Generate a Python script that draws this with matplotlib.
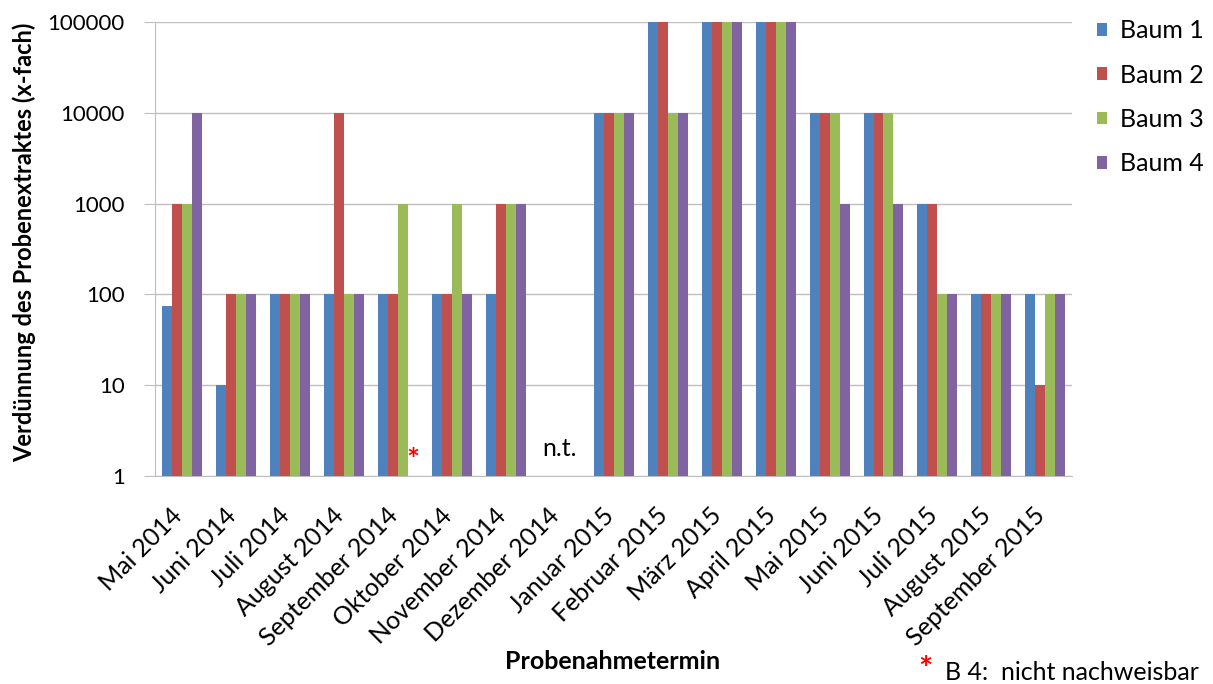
import numpy as np
import matplotlib
matplotlib.use("Agg")
import matplotlib.pyplot as plt
from matplotlib.ticker import FixedLocator, NullLocator
from matplotlib.transforms import ScaledTranslation

plt.rcParams["font.family"] = ["Lato", "DejaVu Sans"]

months = ["Mai 2014", "Juni 2014", "Juli 2014", "August 2014", "September 2014",
          "Oktober 2014", "November 2014", "Dezember 2014", "Januar 2015",
          "Februar 2015", "März 2015", "April 2015", "Mai 2015", "Juni 2015",
          "Juli 2015", "August 2015", "September 2015"]

nan = np.nan
baum1 = [75, 10, 100, 100, 100, 100, 100, nan, 10000, 100000, 100000, 100000, 10000, 10000, 1000, 100, 100]
baum2 = [1000, 100, 100, 10000, 100, 100, 1000, nan, 10000, 100000, 100000, 100000, 10000, 10000, 1000, 100, 10]
baum3 = [1000, 100, 100, 100, 1000, 1000, 1000, nan, 10000, 10000, 100000, 100000, 10000, 10000, 100, 100, 100]
baum4 = [10000, 100, 100, 100, nan, 100, 1000, nan, 10000, 10000, 100000, 100000, 1000, 1000, 100, 100, 100]

series = [("Baum 1", baum1, "#4F81BD"), ("Baum 2", baum2, "#C0504D"),
          ("Baum 3", baum3, "#9BBB59"), ("Baum 4", baum4, "#8064A2")]

GRID = "#BFBFBF"
FS = 18

fig = plt.figure(figsize=(12.13, 6.84), dpi=100)
ax = fig.add_axes([0.128, 0.304, 0.756, 0.664])

x = np.arange(len(months))
w = 0.185
for i, (name, vals, color) in enumerate(series):
    v = np.array(vals, dtype=float)
    # bars start at 1 on the log axis, so the height is value - 1
    ax.bar(x + (i - 1.5) * w, np.where(np.isnan(v), 0, v - 1), w, bottom=1,
           color=color, edgecolor="none", label=name, zorder=3)

ax.set_yscale("log")
ax.set_ylim(1, 100000)
ax.set_xlim(-0.5, len(months) - 0.5)
ax.yaxis.set_major_locator(FixedLocator([1, 10, 100, 1000, 10000, 100000]))
ax.yaxis.set_minor_locator(NullLocator())
ax.set_yticklabels(["1", "10", "100", "1000", "10000", "100000"], fontsize=16)
ax.grid(axis="y", color=GRID, lw=1, zorder=0)

ax.set_xticks(x)
ax.set_xticklabels(months, rotation=45, ha="right", rotation_mode="anchor", fontsize=FS)
ax.tick_params(axis="x", length=0, pad=17)
ax.tick_params(axis="y", length=8, color=GRID, pad=14)
# nudge the rotated labels so they end under the category centre
shift = ScaledTranslation(-0.12, -0.04, fig.dpi_scale_trans)
for lbl in ax.get_xticklabels():
    lbl.set_transform(lbl.get_transform() + shift)

for s in ["top", "right"]:
    ax.spines[s].set_visible(False)
ax.spines["left"].set_color(GRID)
ax.spines["bottom"].set_color(GRID)

ax.text(7, 2.0, "n.t.", ha="center", va="center", fontsize=FS)
ax.text(4 + 1.5 * w, 1.02, "*", ha="center", va="bottom", fontsize=22,
        color="red", fontweight="bold")

fig.text(24 / 1213, 0.646, "Verdünnung des Probenextraktes (x-fach)", rotation=90,
         ha="center", va="center", fontsize=17, fontweight="bold")
fig.text(0.505, 0.022, "Probenahmetermin", ha="center", fontsize=FS, fontweight="bold")
fig.text(0.757, 0.006, "*", color="red", fontsize=24, fontweight="bold", ha="left")
fig.text(0.988, 0.006, "B 4:  nicht nachweisbar", fontsize=18, ha="right")

ax.legend(loc="upper left", bbox_to_anchor=(1.002, 1.055), frameon=False, fontsize=FS,
          handlelength=0.4, handleheight=0.4, handletextpad=0.55, labelspacing=0.85)

fig.savefig("out.png", dpi=100)
